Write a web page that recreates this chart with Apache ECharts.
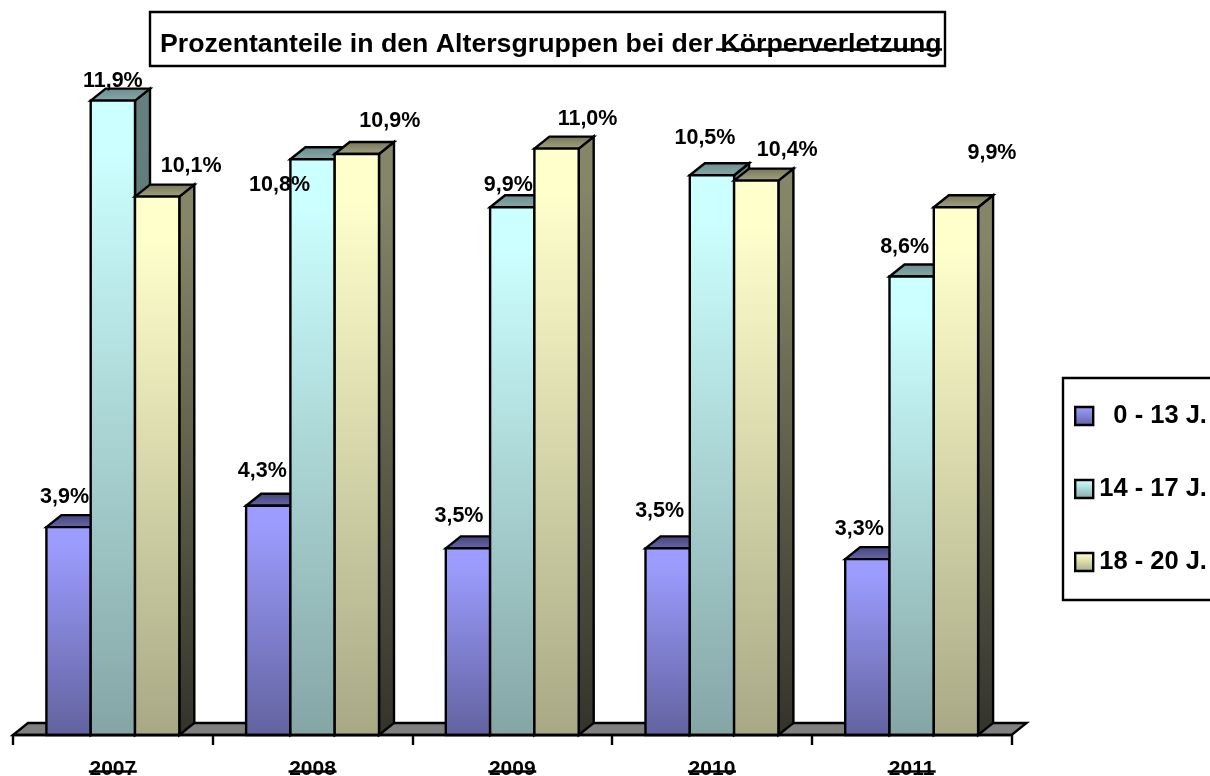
<!DOCTYPE html>
<html><head><meta charset="utf-8">
<style>html,body{margin:0;padding:0;background:#fff}#c{width:1210px;height:776px}</style>
<script src="https://cdn.jsdelivr.net/npm/echarts@6/dist/echarts.min.js"></script>
</head><body><div id="c"></div>
<script>
var categories = ['2007','2008','2009','2010','2011'];
var seriesNames = ['  0 - 13 J.','14 - 17 J.','18 - 20 J.'];
var kids  = [3.9,4.3,3.5,3.5,3.3];
var teens = [11.9,10.8,9.9,10.5,8.6];
var young = [10.1,10.9,11.0,10.4,9.9];
var valueLabels = [
  ['3,9%','4,3%','3,5%','3,5%','3,3%'],
  ['11,9%','10,8%','9,9%','10,5%','8,6%'],
  ['10,1%','10,9%','11,0%','10,4%','9,9%']
];
// manual label placement relative to each bar's front-top centre [dx, dy]
var labelOffsets = [
  [[-4,-30],[-6,-35],[-9,-32],[-8,-37],[-8,-30]],
  [[0,-20],[-33,26],[-4,-22],[-7,-37],[-7,-29]],
  [[34,-31],[33,-33],[31,-30],[31,-31],[36,-54]]
];
var palettes = [
  {front:['#9c9cff','#62629f'],top:['#45457a','#6a6ab0'],side:['#5c5c99','#2c2c4c']},
  {front:['#ccffff','#85a5a5'],top:['#6f8f8f','#87aaaa'],side:['#668080','#2c3838']},
  {front:['#ffffcc','#a8a885'],top:['#77775a','#a6a682'],side:['#858568','#33332a']}
];
var DX=15, DY=12, BAR=44.3, LW=2.4;
function grad(c){return {type:'linear',x:0,y:0,x2:0,y2:1,colorStops:[{offset:0,color:c[0]},{offset:0.08,color:c[0]},{offset:1,color:c[1]}]};}
function poly(pts,fill){return {type:'polygon',shape:{points:pts},style:{fill:fill,stroke:'#000',lineWidth:LW,lineJoin:'miter'}};}
function barRenderer(si){
  return function(params,api){
    var p=api.coord([api.value(0),api.value(1)]), b=api.coord([api.value(0),0]);
    var x0=p[0]+(si-1.5)*BAR, x1=x0+BAR, yT=p[1], yB=b[1], pal=palettes[si];
    return {type:'group',children:[
      poly([[x1,yT],[x1+DX,yT-DY],[x1+DX,yB-DY],[x1,yB]],grad(pal.side)),
      poly([[x0,yT],[x0+DX,yT-DY],[x1+DX,yT-DY],[x1,yT]],grad(pal.top)),
      poly([[x0,yT],[x1,yT],[x1,yB],[x0,yB]],grad(pal.front))
    ]};
  };
}
function labelRenderer(params,api){
  var si=api.value(2), ci=api.value(0), p=api.coord([ci,api.value(1)]), o=labelOffsets[si][ci];
  return {type:'text',style:{x:p[0]+(si-1)*BAR+o[0],y:p[1]+o[1],text:valueLabels[si][ci],
    font:'bold 21.5px "Liberation Sans"',fill:'#000',align:'center',verticalAlign:'middle'}};
}
function floorRenderer(params,api){
  var b=api.coord([0,0]), w=api.size([1,0])[0], L=b[0]-w/2, R=L+w*categories.length;
  return {type:'polygon',shape:{points:[[L,b[1]],[L+DX,b[1]-DY],[R+DX,b[1]-DY],[R,b[1]]]},
    style:{fill:'#808080',stroke:'#000',lineWidth:LW}};
}
function strikeRenderer(params,api){
  var b=api.coord([api.value(0),0]);
  return {type:'line',shape:{x1:b[0]-24,y1:b[1]+36.5,x2:b[0]+24,y2:b[1]+36.5},style:{stroke:'#000',lineWidth:2.4}};
}
var values=[kids,teens,young];
var labelData=[];
values.forEach(function(v,s){v.forEach(function(d,c){labelData.push([c,d,s]);});});
var series=[
  {type:'custom',name:'floor',coordinateSystem:'cartesian2d',renderItem:floorRenderer,data:[[0,0]],z:2,silent:true},
  {type:'custom',name:'strike',coordinateSystem:'cartesian2d',renderItem:strikeRenderer,data:categories.map(function(c,i){return [i,0];}),z:6,silent:true}
];
values.forEach(function(v,s){
  series.push({type:'custom',name:seriesNames[s],coordinateSystem:'cartesian2d',renderItem:barRenderer(s),
    itemStyle:{color:grad(palettes[s].front)},z:3+s*0.01,data:v.map(function(d,i){return [i,d];}),encode:{x:0,y:1}});
});
series.push({type:'custom',name:'labels',coordinateSystem:'cartesian2d',renderItem:labelRenderer,data:labelData,z:8,silent:true,encode:{x:0,y:1}});
var chart=echarts.init(document.getElementById('c'),null,{renderer:'canvas'});
chart.setOption({
  animation:false,backgroundColor:'#fff',
  title:{text:'Prozentanteile in den Altersgruppen bei der Körperverletzung',left:150,top:12,
    padding:[19,4,8,10],borderColor:'#000',borderWidth:2.4,backgroundColor:'#fff',
    textStyle:{fontFamily:'Liberation Sans',fontWeight:'bold',fontSize:26.7,color:'#000'}},
  graphic:[{type:'line',z:20,shape:{x1:716,y1:49.5,x2:942,y2:49.5},style:{stroke:'#000',lineWidth:2.4}}],
  legend:{orient:'vertical',left:1063,top:378,padding:[25,30,25,11],itemGap:47,itemWidth:18,itemHeight:18,
    borderColor:'#000',borderWidth:2.4,backgroundColor:'#fff',selectedMode:false,
    textStyle:{fontFamily:'Liberation Sans',fontWeight:'bold',fontSize:25.5,color:'#000',padding:[1,0,0,1]},
    data:seriesNames.map(function(n,s){return {name:n,icon:'rect',itemStyle:{color:grad(palettes[s].front),borderColor:'#000',borderWidth:2.4}};})},
  grid:{left:13,top:42,width:998.5,height:693,outerBoundsMode:'none'},
  xAxis:{type:'category',data:categories,axisLine:{show:true,lineStyle:{color:'#000',width:2.4}},
    axisTick:{show:true,length:10,alignWithLabel:false,lineStyle:{color:'#000',width:2.4}},
    axisLabel:{fontFamily:'Liberation Sans',fontWeight:'bold',fontSize:21,color:'#000',margin:24,interval:0},z:5},
  yAxis:{type:'value',min:0,max:13,interval:1,show:false,splitLine:{show:false}},
  series:series
});
</script></body></html>
